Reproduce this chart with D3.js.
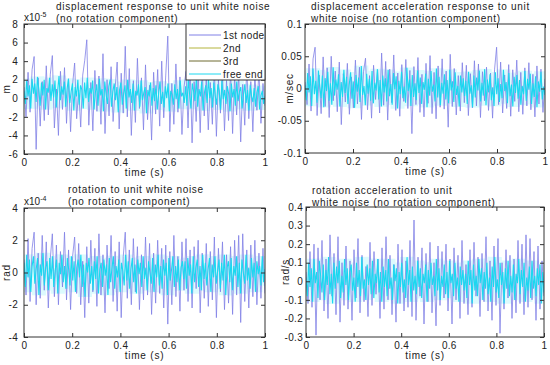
<!DOCTYPE html>
<html>
<head>
<meta charset="utf-8">
<script src="https://cdn.jsdelivr.net/npm/d3@7"></script>
<style>
  body { margin: 0; background: #fff; }
  text { font-family: "Liberation Sans", Arial, sans-serif; font-size: 10px; fill: #222; }
</style>
</head>
<body>
<script>
// time axis shared by all four panels
var timeTicks = [0, 0.2, 0.4, 0.6, 0.8, 1];
var legendNames = ["1st node", "2nd", "3rd", "free end"];
var legendColors = ["#8080e6", "#b4b43c", "#6e6a30", "#1ad8f0"];

// displacement (x1e-5 m)
var dispTicks = [-6, -4, -2, 0, 2, 4, 6, 8];
var dispNode1 = [1.2,-2.0,2.8,-1.5,3.1,4.5,-5.5,2.2,-3.0,1.8,
  -2.4,3.5,-1.8,2.6,4.6,-3.2,1.0,-4.0,2.9,-1.2,
  3.3,-2.7,2.1,-3.6,1.5,3.8,-2.2,0.9,-3.1,2.5,
  4.1,6.3,-2.9,1.7,-3.5,3.0,-1.4,2.4,-2.8,4.8,
  -3.8,2.0,-1.9,3.4,-2.5,1.1,3.9,-3.3,2.7,-1.6,
  5.6,-2.0,3.2,-4.0,1.9,-2.6,4.3,-1.1,2.2,-3.4,
  3.6,-2.3,1.4,-4.5,2.8,-1.7,3.1,-3.0,4.0,-2.1,
  2.5,6.7,-3.6,1.6,-2.8,3.7,-1.5,2.3,-3.9,1.2,
  2.9,-3.2,3.5,-4.8,1.8,-2.5,2.6,-3.7,3.0,-1.9,
  2.2,-3.4,1.7,-2.8,3.3,-4.1,2.0,-1.6,2.7,-3.5,
  1.9,-2.4,3.1,-3.8,2.4,-1.8,2.8,-4.7,1.5,-2.9,
  3.4,-2.2,1.8,-3.6,2.6,-1.3,3.0,-2.7,1.6,-0.8];
var dispFree = [0.8,-0.6,1.9,0.2,1.4,-1.1,2.1,0.5,1.6,-0.4,2.3,0.9,-0.8,1.7,0.3,2.0,-1.2,1.1,0.6,2.2,
  -0.3,1.5,0.1,1.9,-1.0,0.8,2.4,-0.2,1.3,0.4,1.8,-0.9,1.0,2.1,-0.5,0.7,1.6,-1.3,1.2,0.2,
  2.0,-0.7,1.4,0.9,-1.1,1.7,0.0,2.2,-0.4,1.1,0.5,1.9,-1.2,0.6,1.5,-0.8,2.1,0.3,1.0,-1.4,
  1.8,0.4,-0.6,1.3,2.0,-0.9,0.7,1.6,-0.2,1.2,-1.5,0.9,1.7,-0.7,0.5,1.4,-1.1,2.0,0.1,1.0,
  -0.5,1.6,-1.3,0.8,0.3,1.5,-0.9,1.9,-0.2,0.6,1.2,-1.6,0.9,0.2,1.7,-0.8,1.1,-0.3,1.4,-1.2,
  0.5,1.8,-0.6,0.7,-1.0,1.3,0.0,1.6,-1.4,0.8,0.4,-0.7,1.5,-0.1,1.0,-1.1,1.9,0.2,0.6,-0.5,
  1.3,-0.8,2.0,0.4,-1.1,1.6,0.7,-0.3,2.2,-0.9,1.0,0.2,1.8,-1.3,0.6,1.4,-0.5,2.1,0.0,1.1,
  -1.0,1.7,0.3,-0.7,1.5,0.8,-1.2,1.9,-0.1,0.9,-0.6,1.3,0.5,-1.4,1.6,0.1,1.0,-0.8,1.8,-0.3,
  0.7,1.2,-1.1,0.4,1.5,-0.5,0.9,-1.3,1.4,0.2,-0.4,1.1,-0.9,0.6,1.3,-1.2,0.3,0.8,-0.6,0.2];

// displacement acceleration (x0.01 m/sec)
var accTicks = [-0.1, -0.05, 0, 0.05, 0.1];
var accNode1 = [1.0,-2.5,3.8,-3.5,4.6,6.4,-4.2,2.1,-3.9,4.9,
  -2.8,3.2,-4.5,5.0,-1.9,2.7,-3.6,4.1,-5.6,2.3,
  -2.1,3.9,-4.0,1.8,-3.0,4.4,-2.4,3.3,-4.8,2.6,
  4.7,-3.3,2.0,-4.6,3.6,-1.7,2.9,-3.8,5.5,-2.6,
  4.2,-4.9,3.0,-2.2,5.2,-3.4,2.4,-4.3,3.7,-2.0,
  4.5,-3.1,2.8,-7.0,3.4,-2.5,4.8,-3.7,2.2,-4.4,
  3.9,-2.3,5.1,-3.9,2.5,-4.7,3.5,-2.9,4.6,-3.2,
  2.7,-6.0,5.3,-2.8,3.1,-4.1,2.0,-3.5,4.0,-2.2,
  3.6,-4.2,2.3,-3.0,4.3,-2.7,3.8,-4.5,2.6,-1.9,
  3.3,-3.4,2.4,-4.6,3.0,6.4,-2.5,4.1,-3.8,2.1,
  -3.1,3.7,-4.3,2.9,-2.0,4.4,-3.6,2.5,-4.0,3.2,
  -2.7,4.0,-3.3,2.2,-4.4,3.5,-2.4,3.0,-3.7,1.5];
var accFree = [0.5,-1.8,2.4,-0.6,1.9,-2.7,3.1,-0.9,1.2,-2.2,2.8,0.3,-1.5,2.0,-2.9,1.6,-0.4,2.6,-1.9,0.8,
  -2.5,3.3,-1.1,1.4,-0.2,2.2,-2.8,1.0,-1.3,2.9,-0.7,1.8,-2.4,0.6,2.5,-1.6,1.1,-3.0,2.1,-0.5,
  1.7,-2.1,3.5,-1.0,0.4,-2.6,2.3,-0.8,1.5,-1.9,2.7,-2.3,0.9,-0.3,3.0,-1.7,1.3,-2.8,2.0,-0.6,
  1.6,-2.0,2.9,-1.2,0.7,-2.5,2.4,-0.1,1.9,-3.1,1.2,-0.9,2.6,-1.5,0.3,-2.2,3.2,-0.4,1.4,-2.7,
  2.1,-1.3,0.8,-1.8,2.8,-0.7,1.7,-2.4,1.0,-0.2,2.3,-2.9,1.5,-1.1,2.7,-0.5,0.6,-2.0,3.1,-1.4,
  1.8,-2.6,0.9,-0.8,2.2,-1.7,1.3,-2.3,2.9,-0.3,1.1,-2.1,2.5,-1.0,0.4,-2.8,2.0,-0.6,1.6,-1.2,
  1.2,-2.4,2.6,-0.8,0.5,-2.9,2.0,-1.4,1.7,-0.3,2.8,-2.0,0.9,-1.1,3.0,-2.6,1.4,-0.6,2.2,-1.8,
  0.2,-2.7,2.5,-0.9,1.6,-2.1,0.7,-1.5,2.9,-0.4,1.0,-2.3,2.4,-1.2,0.6,-2.8,1.8,-0.7,2.1,-1.6,
  1.3,-2.5,0.4,-0.9,2.7,-1.9,1.5,-0.2,2.3,-2.4,0.8,-1.3,1.9,-2.9,1.1,-0.5,2.6,-1.7,0.3,-1.0];

// rotation (x1e-4 rad)
var rotTicks = [-4, -2, 0, 2, 4];
var rotNode1 = [0.8,-1.4,2.1,-1.8,1.5,2.5,-2.0,1.2,-1.6,2.3,
  -1.1,1.9,-2.2,0.9,2.4,-1.5,1.7,-2.0,1.3,-0.9,
  2.5,-1.7,1.4,-2.3,1.0,2.2,-1.3,1.8,-2.0,0.7,
  -2.8,1.6,-1.9,2.0,-1.2,1.5,-2.1,2.4,-1.4,1.1,
  -2.5,1.7,-1.0,2.3,-1.8,1.3,-2.4,1.9,-2.8,1.0,
  2.5,-1.6,1.4,-2.0,2.1,-1.2,1.6,-2.3,1.1,-1.7,
  2.2,-1.4,1.8,-2.6,1.2,-1.9,2.0,-1.3,1.5,-2.2,
  1.7,-3.2,1.3,-2.0,2.3,-1.5,1.0,-2.4,1.9,-1.1,
  2.1,-1.8,1.4,-2.2,1.6,-1.0,2.0,-2.5,1.2,-1.6,
  1.8,-2.1,1.3,-1.7,2.2,-2.8,1.5,-1.2,1.9,-2.3,
  1.1,-1.9,1.6,-2.6,2.0,-1.4,2.3,-3.1,2.4,-1.8,
  1.4,-2.2,1.7,-1.5,2.0,-2.0,1.2,-1.6,1.5,-1.3];
var rotFree = [0.6,-0.9,1.1,-0.3,0.8,-1.2,0.4,1.0,-0.7,0.2,0.9,-1.4,0.5,-0.2,1.2,-0.8,0.3,0.7,-1.1,0.9,
  -0.4,1.0,-0.9,0.1,0.8,-1.3,0.6,-0.1,1.1,-0.6,0.4,-1.0,0.9,0.2,-0.8,1.0,-0.5,0.7,-1.2,0.3,
  0.8,-0.3,1.1,-0.9,0.5,-1.5,0.6,0.0,0.9,-0.7,0.4,-1.1,0.7,-0.4,1.0,-1.3,0.2,0.6,-0.9,0.8,
  -0.2,0.5,-1.4,0.9,-0.6,0.3,1.0,-1.0,0.4,-0.3,0.8,-1.2,0.6,0.1,-0.8,1.1,-0.5,0.7,-1.0,0.2,
  0.9,-0.6,0.5,-1.3,0.8,-0.1,0.6,-0.9,1.0,-0.4,0.3,-1.1,0.7,0.0,-0.7,0.9,-1.2,0.5,-0.3,1.1,
  -0.8,0.4,-1.0,0.8,-0.2,0.6,-1.4,0.9,-0.5,0.2,1.0,-0.9,0.4,-0.6,0.8,-1.1,0.3,0.7,-0.4,
  0.7,-1.0,0.9,-0.2,0.5,-1.3,1.0,-0.6,0.3,0.8,-0.9,0.4,-1.1,1.1,-0.4,0.6,-0.8,0.2,0.9,-1.2,
  0.5,-0.3,1.0,-0.7,0.1,0.8,-1.0,0.6,-0.5,1.1,-1.4,0.3,0.7,-0.6,0.9,-1.1,0.4,-0.2,1.0,-0.9,
  0.6,-1.3,0.8,0.0,-0.7,1.1,-0.5,0.3,-1.0,0.9,-0.3,0.6,-1.2,0.7,-0.1,0.4,-0.8,1.0,-0.6,0.2];

// rotation acceleration (x0.01 rad/s)
var rotAccTicks = [-0.3, -0.2, -0.1, 0, 0.1, 0.2, 0.3, 0.4];
var rotAccNode1 = [5,-12,16,-14,20,-29,18,-10,22,-16,
  12,-20,25,-8,15,-18,24,-22,10,-13,
  19,-15,11,-21,17,-9,23,-17,14,-11,
  8,-19,21,-13,16,-7,12,-20,18,-15,
  24,-10,14,-18,9,-22,20,-12,17,-16,
  11,-14,22,-19,33,-21,13,-8,18,-23,
  15,-11,21,-17,10,-24,19,-13,16,-9,
  20,-16,12,-23,18,-10,14,-20,22,-12,
  9,-18,17,-14,21,-8,13,-19,15,-11,
  24,-16,11,-21,19,-13,23,-28,10,-15,
  17,-9,14,-20,12,-17,22,-12,20,-18,
  25,-14,23,-10,16,-21,19,-15,11,-8];
var rotAccFree = [2,-8,10,-3,7,-11,12,-1,5,-9,11,3,-6,9,-10,6,-2,13,-7,4,
  -12,10,-4,8,-1,11,-9,3,-6,12,-2,7,-10,5,9,-5,2,-11,10,-3,
  6,-8,13,-4,1,-10,9,-2,7,-7,11,-9,4,-1,12,-6,5,-11,8,-3,
  6,-8,12,-4,2,-10,9,0,7,-12,5,-3,10,-6,1,-9,13,-2,6,-11,
  8,-5,3,-7,11,-3,7,-9,4,-1,9,-11,6,-4,10,-2,3,-8,12,-5,
  7,-10,3,-3,9,-7,5,-9,11,-1,4,-8,10,-4,2,-11,8,-2,6,-5,
  4,-9,11,-2,6,-12,9,-5,3,-8,12,-1,7,-10,5,-4,10,-7,2,-11,
  8,-3,13,-6,1,-9,10,-2,5,-12,7,-4,11,-8,3,-6,9,-10,4,-1,
  12,-7,6,-3,10,-11,2,-5,8,-9,11,-4,3,-8,7,-2,9,-12,5,-6];

var hundredth = function(v) { return v / 100; };

var panels = [
  { left: 24, right: 265, top: 24, bottom: 154, ticks: dispTicks, domain: [-6, 8],
    node1: dispNode1, free: dispFree, ylabel: "m", ylabelX: 6, exp: "-5", labelGap: 6,
    title: ["displacement response to unit white noise", "(no rotation component)"], titleX: 56, titleY: 10, legend: true },
  { left: 305, right: 545, top: 24, bottom: 153, ticks: accTicks, domain: [-0.1, 0.1],
    node1: accNode1.map(hundredth), free: accFree.map(hundredth), ylabel: "m/sec", ylabelX: 289, labelGap: 3,
    title: ["displacement acceleration response to unit", "white noise (no rotantion component)"], titleX: 311, titleY: 10 },
  { left: 24, right: 265, top: 208, bottom: 337, ticks: rotTicks, domain: [-4, 4],
    node1: rotNode1, free: rotFree, ylabel: "rad", ylabelX: 6, exp: "-4", labelGap: 6,
    title: ["rotation to unit white noise", "(no rotation component)"], titleX: 68, titleY: 193 },
  { left: 306, right: 544, top: 207, bottom: 337, ticks: rotAccTicks, domain: [-0.3, 0.4],
    node1: rotAccNode1.map(hundredth), free: rotAccFree.map(hundredth), ylabel: "rad/s", ylabelX: 285, labelGap: 3,
    title: ["rotation acceleration to unit", "white noise (no rotation component)"], titleX: 312, titleY: 194 }
];

var svg = d3.select("body").append("svg")
    .attr("width", 550)
    .attr("height", 365);

function fmt(v) {
  return String(+v.toFixed(2));
}

panels.forEach(function(p, k) {
  var x = d3.scaleLinear().domain([0, 1]).range([p.left, p.right]);
  var y = d3.scaleLinear().domain(p.domain).range([p.bottom, p.top]);
  var g = svg.append("g");

  g.append("clipPath").attr("id", "clip" + k)
    .append("rect")
      .attr("x", p.left).attr("y", p.top)
      .attr("width", p.right - p.left).attr("height", p.bottom - p.top);

  var line = function(arr) {
    return d3.line()
      .x(function(d, i) { return x(i / (arr.length - 1)); })
      .y(function(d) { return y(d); })(arr);
  };

  var plot = g.append("g").attr("clip-path", "url(#clip" + k + ")");
  // soft halo round the dense band (like the blurry original)
  plot.append("path").attr("d", line(p.free))
    .attr("fill", "none").attr("stroke", "#80eef8").attr("stroke-width", 14)
    .attr("stroke-opacity", 0.28);
  plot.append("path").attr("d", line(p.node1))
    .attr("fill", "none").attr("stroke", legendColors[0]).attr("stroke-width", 0.8);
  plot.append("path").attr("d", line(p.free))
    .attr("fill", "none").attr("stroke", legendColors[3]).attr("stroke-width", 1.1);

  // axes, ticks pointing inward
  g.append("g").attr("transform", "translate(0," + p.bottom + ")")
    .call(d3.axisBottom(x).tickValues(timeTicks).tickSize(-4).tickSizeOuter(0).tickPadding(5).tickFormat(fmt));
  g.append("g").attr("transform", "translate(0," + p.top + ")")
    .call(d3.axisTop(x).tickValues(timeTicks).tickSize(-4).tickSizeOuter(0).tickFormat(""));
  g.append("g").attr("transform", "translate(" + p.left + ",0)")
    .call(d3.axisLeft(y).tickValues(p.ticks).tickSize(-4).tickSizeOuter(0).tickPadding(p.labelGap).tickFormat(fmt));
  g.append("g").attr("transform", "translate(" + p.right + ",0)")
    .call(d3.axisRight(y).tickValues(p.ticks).tickSize(-4).tickSizeOuter(0).tickFormat(""));
  g.selectAll(".domain").remove();
  g.selectAll(".tick line").attr("stroke", "#333");
  g.selectAll(".tick text").attr("font-size", 10).attr("font-family", null)
    .style("fill", "#222").style("letter-spacing", "0.3px");

  g.append("rect")
    .attr("x", p.left).attr("y", p.top)
    .attr("width", p.right - p.left).attr("height", p.bottom - p.top)
    .attr("fill", "none").attr("stroke", "#333").attr("stroke-width", 1);

  // axis labels
  g.append("text")
    .attr("x", (p.left + p.right) / 2).attr("y", p.bottom + 22)
    .attr("text-anchor", "middle").style("letter-spacing", "0.8px")
    .text("time (s)");
  g.append("text")
    .attr("transform", "translate(" + p.ylabelX + "," + ((p.top + p.bottom) / 2) + ") rotate(-90)")
    .attr("text-anchor", "middle").attr("dy", "0.35em").style("letter-spacing", "0.8px")
    .text(p.ylabel);

  if (p.exp) {
    var e = g.append("text").attr("x", p.left).attr("y", p.top - 3);
    e.append("tspan").text("x10");
    e.append("tspan").attr("dy", -4).attr("font-size", 7).text(p.exp);
  }

  // two-line title
  p.title.forEach(function(t, j) {
    g.append("text")
      .attr("x", p.titleX).attr("y", p.titleY + j * 12)
      .style("letter-spacing", "0.7px")
      .text(t);
  });

  if (p.legend) {
    var lx = 186, ly = p.top, lw = p.right - lx, lh = 56;
    var lg = g.append("g");
    lg.append("rect").attr("x", lx).attr("y", ly).attr("width", lw).attr("height", lh)
      .attr("fill", "#fff").attr("stroke", "#333");
    legendNames.forEach(function(name, j) {
      var yy = ly + 11 + j * 13;
      lg.append("line").attr("x1", lx + 3).attr("x2", lx + 35).attr("y1", yy).attr("y2", yy)
        .attr("stroke", legendColors[j]).attr("stroke-width", 1);
      lg.append("text").attr("x", lx + 37).attr("y", yy).attr("dy", "0.35em")
        .style("letter-spacing", "0.4px").text(name);
    });
  }
});
</script>
</body>
</html>
